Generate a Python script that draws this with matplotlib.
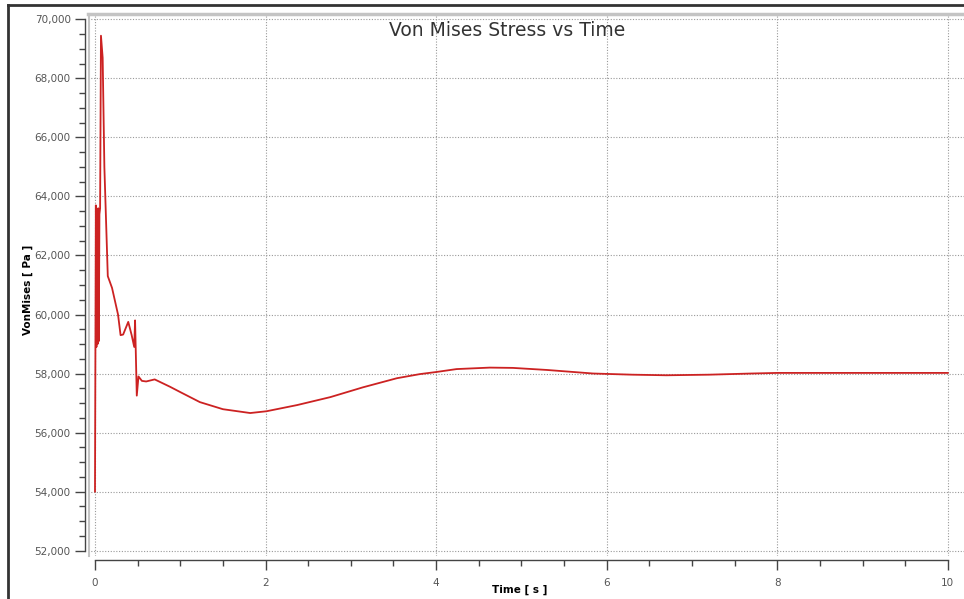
"""Von Mises stress vs time, transient response redrawn in the ANSYS chart style."""

import matplotlib

matplotlib.use("Agg")
import matplotlib.pyplot as plt
from matplotlib.lines import Line2D
from matplotlib.ticker import FuncFormatter, MultipleLocator

# values
time_s = [0.0, 0.010, 0.017, 0.024, 0.031, 0.038, 0.045, 0.052, 0.060, 0.070,
          0.090, 0.110, 0.150, 0.200, 0.270, 0.300, 0.330, 0.390, 0.430, 0.460,
          0.470, 0.490, 0.510, 0.550, 0.600, 0.700, 0.880, 1.00, 1.23, 1.50,
          1.82, 2.01, 2.37, 2.76, 3.14, 3.54, 3.81, 4.00, 4.24, 4.63,
          4.90, 5.30, 5.84, 6.30, 6.70, 7.20, 7.70, 8.00, 9.00, 10.00]
von_mises_pa = [54000, 63700, 58900, 63500, 59000, 63600, 59100, 63400, 63600, 69450,
                68700, 65000, 61300, 60900, 60000, 59300, 59320, 59750, 59300, 58900,
                59800, 57250, 57900, 57750, 57730, 57800, 57550, 57370, 57030, 56790,
                56660, 56720, 56930, 57200, 57530, 57840, 57980, 58050, 58150, 58200,
                58190, 58120, 58000, 57960, 57940, 57960, 58000, 58020, 58020, 58020]

x_ticks = [0, 2, 4, 6, 8, 10]
y_ticks = [52000, 54000, 56000, 58000, 60000, 62000, 64000, 66000, 68000, 70000]

fig = plt.figure(figsize=(9.64, 5.99), dpi=100)
ax = fig.add_axes([88 / 964, 1 - 556 / 599, 1 - 88 / 964, (556 - 14) / 599])

ax.plot(time_s, von_mises_pa, color="#cc2222", lw=1.3, zorder=3)

ax.set_xlim(-0.082, 10.19)
ax.set_ylim(51814, 70186)
ax.set_xticks(x_ticks)
ax.set_yticks(y_ticks)
ax.xaxis.set_minor_locator(MultipleLocator(0.5))
ax.yaxis.set_minor_locator(MultipleLocator(500))
ax.yaxis.set_major_formatter(FuncFormatter(lambda v, _: f"{v:,.0f}"))

ax.grid(True, which="major", color="#999999", linestyle=(0, (1, 1.5)), lw=0.8)

# light frame on the top and left of the plotting area
ax.add_artist(Line2D([0, 1], [1, 1], transform=ax.transAxes, color="#c4c4c4",
                     lw=2.5, clip_on=False))
ax.add_artist(Line2D([0.0015, 0.0015], [0, 1], transform=ax.transAxes, color="#c4c4c4",
                     lw=1.5, clip_on=False))
for side in ("top", "right"):
    ax.spines[side].set_visible(False)
ax.spines["left"].set_position(("outward", 2))
ax.spines["bottom"].set_position(("outward", 3))
ax.spines["left"].set_bounds(52000, 70000)
ax.spines["bottom"].set_bounds(0, 10)
for side in ("left", "bottom"):
    ax.spines[side].set_color("#444444")
    ax.spines[side].set_linewidth(1.0)

ax.tick_params(which="major", length=7, width=1, color="#444444",
               labelsize=7.5, labelcolor="#555555")
ax.tick_params(which="minor", length=4, width=1, color="#444444")
ax.tick_params(axis="x", pad=6)

fig.text(507 / 964, 1 - 30 / 599, "Von Mises Stress vs Time", ha="center",
         va="center", fontsize=13.5, color="#333333")

fig.text(28 / 964, 1 - 290 / 599, "VonMises [ Pa ]", rotation=90, ha="center",
         va="center", fontsize=7.5, fontweight="bold")
fig.text(520 / 964, 1 - 590 / 599, "Time [ s ]", ha="center", va="center",
         fontsize=7.5, fontweight="bold")

# dark outer border on the top and left edges
fig.add_artist(Line2D([8 / 964, 1], [1 - 5 / 599] * 2, color="#333333", lw=2))
fig.add_artist(Line2D([8 / 964] * 2, [0, 1 - 5 / 599], color="#333333", lw=2))

fig.savefig("out.png", dpi=100)
plt.close(fig)
